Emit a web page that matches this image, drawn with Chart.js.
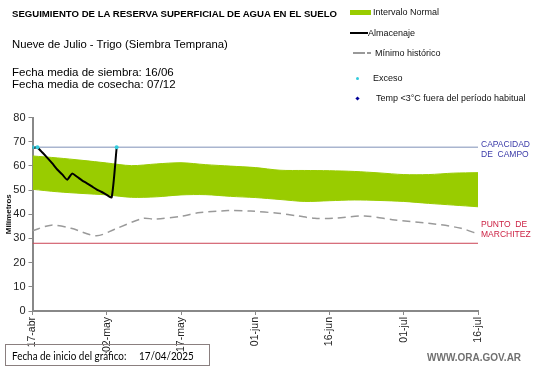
<!DOCTYPE html>
<html><head><meta charset="utf-8">
<script src="https://cdn.jsdelivr.net/npm/chart.js@4"></script>
<style>
body{margin:0;background:#fff;}
#wrap{position:relative;width:541px;height:368px;overflow:hidden;font-family:"Liberation Sans",Arial,sans-serif;background:#fff;}
#c{position:absolute;left:0;top:0;}
.t{position:absolute;white-space:nowrap;color:#000;line-height:1;}
.lg{font-size:9px;color:#111;}
.bx{font-size:11.5px;font-family:Lato,'Open Sans',sans-serif;transform-origin:0 0;transform:scaleX(0.86);}
</style></head><body>
<div id="wrap">
<canvas id="c" width="541" height="368"></canvas>
<div class="t" style="left:12px;top:9px;font-size:9.6px;font-weight:bold;">SEGUIMIENTO DE LA RESERVA SUPERFICIAL DE AGUA EN EL SUELO</div>
<div class="t" style="left:12px;top:39px;font-size:11.3px;">Nueve de Julio - Trigo (Siembra Temprana)</div>
<div class="t" style="left:12px;top:67px;font-size:11.5px;">Fecha media de siembra: 16/06</div>
<div class="t" style="left:12px;top:79px;font-size:11.5px;">Fecha media de cosecha: 07/12</div>

<div style="position:absolute;left:350px;top:10px;width:21px;height:5px;background:#99cc00;"></div>
<div class="t lg" style="left:373px;top:8px;">Intervalo Normal</div>
<div style="position:absolute;left:350px;top:32px;width:18px;height:2px;background:#000;"></div>
<div class="t lg" style="left:368px;top:29px;">Almacenaje</div>
<div style="position:absolute;left:353px;top:52px;width:12px;height:1.5px;background:#999;"></div>
<div style="position:absolute;left:367px;top:52px;width:4px;height:1.5px;background:#999;"></div>
<div class="t lg" style="left:375px;top:49px;">Mínimo histórico</div>
<div style="position:absolute;left:356px;top:77px;width:3px;height:3px;border-radius:50%;background:#33ccdd;"></div>
<div class="t lg" style="left:373px;top:74px;">Exceso</div>
<div style="position:absolute;left:356px;top:97px;width:3px;height:3px;transform:rotate(45deg);background:#000099;"></div>
<div class="t lg" style="left:376px;top:94px;">Temp &lt;3°C fuera del período habitual</div>

<div style="position:absolute;left:5px;top:344px;width:205px;height:22px;border:1px solid #8a7f7f;box-sizing:border-box;"></div>
<div class="t bx" style="left:12px;top:350px;">Fecha de inicio del gráfico:</div>
<div class="t bx" style="left:139px;top:350px;">17/04/2025</div>
<div class="t" style="left:427px;top:353px;font-size:10px;font-weight:bold;color:#707070;">WWW.ORA.GOV.AR</div>
</div>
<script>
const xTickDays = [0, 15, 30, 45, 60, 75, 90];
const xTickLabels = ['17-abr', '02-may', '17-may', '01-jun', '16-jun', '01-jul', '16-jul'];
const yTicks = [0, 10, 20, 30, 40, 50, 60, 70, 80];

const bandDays = [0, 5, 10, 15, 20, 25, 30, 35, 40, 45, 50, 55, 60, 65, 70, 75, 80, 85, 90];
const bandUpper = [64.1, 63.3, 62.3, 61.2, 60.1, 60.8, 61.3, 60.5, 59.9, 59.3, 58.2, 58.1, 58.0, 57.7, 57.1, 56.4, 56.4, 57.0, 57.2];
const bandLower = [50.3, 49.3, 48.6, 48.0, 47.0, 47.2, 48.0, 48.1, 47.4, 46.9, 46.1, 45.3, 45.6, 45.9, 45.7, 45.3, 44.5, 43.8, 43.1];

const storageDays = [0, 1, 2, 3, 4, 5, 6, 7, 8, 9, 10, 11, 12, 13, 14, 15, 16, 17];
const storageVals = [67.5, 67.5, 65.5, 63.3, 61.0, 58.5, 56.5, 54.3, 56.8, 55.5, 54.0, 52.8, 51.5, 50.2, 49.2, 48.0, 47.0, 67.5];

const minDays = [0, 3.8, 7.8, 12.9, 16.6, 22.3, 24.7, 30.4, 33.4, 39.5, 44.1, 49.6, 53.6, 57, 60.7, 67.1, 73.2, 80, 86.6, 90];
const minVals = [33.2, 35.5, 34.2, 31.1, 33.8, 38.3, 38.0, 39.3, 40.6, 41.5, 41.3, 40.4, 39.3, 38.3, 38.3, 39.3, 37.6, 36.3, 34.2, 31.8];

const excessDays = [0, 1, 17];
const excessVals = [67.7, 67.7, 67.7];

const fieldCapacity = 67.7;
const wiltingPoint = 28;
const axisStartEnd = [0, 90];

const pts = (xs, ys) => xs.map((x, i) => ({x: x, y: ys[i]}));
const FONT = '"Liberation Sans", Arial, sans-serif';

const sideLabels = {
  id: 'sideLabels',
  afterDraw(chart) {
    const ctx = chart.ctx, y = chart.scales.y, a = chart.chartArea;
    ctx.save();
    ctx.font = '8.5px ' + FONT;
    ctx.textBaseline = 'middle';
    ctx.fillStyle = '#3a3aa8';
    const yc = y.getPixelForValue(fieldCapacity);
    ctx.fillText('CAPACIDAD', a.right + 3, yc - 3);
    ctx.fillText('DE  CAMPO', a.right + 3, yc + 7);
    ctx.fillStyle = '#cc2244';
    const yw = y.getPixelForValue(wiltingPoint);
    ctx.fillText('PUNTO  DE', a.right + 3, yw - 19);
    ctx.fillText('MARCHITEZ', a.right + 3, yw - 9);
    ctx.fillStyle = '#111';
    ctx.font = 'bold 8px ' + FONT;
    ctx.translate(9, (a.top + a.bottom) / 2);
    ctx.rotate(-Math.PI / 2);
    ctx.textAlign = 'center';
    ctx.fillText('Milímetros', 0, 0);
    ctx.restore();
  }
};

new Chart(document.getElementById('c'), {
  type: 'line',
  data: {
    datasets: [
      {data: pts(excessDays, excessVals), showLine: false, pointRadius: 2, pointBackgroundColor: '#33ccdd', pointBorderWidth: 0, order: 0},
      {data: pts(storageDays, storageVals), borderColor: '#000', borderWidth: 2, pointRadius: 0, tension: 0.2, order: 1},
      {data: pts(minDays, minVals), borderColor: '#9a9a9a', borderWidth: 1.5, borderDash: [8, 5], pointRadius: 0, tension: 0.3, order: 2},
      {data: pts(axisStartEnd, [fieldCapacity, fieldCapacity]), borderColor: '#a9b5cf', borderWidth: 1.5, pointRadius: 0, order: 3},
      {data: pts(axisStartEnd, [wiltingPoint, wiltingPoint]), borderColor: '#cc4455', borderWidth: 1, pointRadius: 0, order: 3},
      {data: pts(bandDays, bandUpper), borderColor: '#99cc00', borderWidth: 1, backgroundColor: '#99cc00', fill: '+1', pointRadius: 0, tension: 0.3, order: 5},
      {data: pts(bandDays, bandLower), borderColor: '#99cc00', borderWidth: 1, pointRadius: 0, tension: 0.3, order: 5}
    ]
  },
  options: {
    responsive: false,
    animation: false,
    layout: {padding: {left: 0, right: 63, top: 117.5, bottom: 0}},
    plugins: {legend: {display: false}, tooltip: {enabled: false}},
    scales: {
      x: {
        type: 'linear', min: 0, max: 90,
        afterBuildTicks: s => { s.ticks = xTickDays.map(v => ({value: v})); },
        afterFit: s => { s.height = 57; },
        ticks: {
          callback: v => xTickLabels[xTickDays.indexOf(v)],
          autoSkip: false, maxRotation: 90, minRotation: 90,
          font: {size: 10.5, family: FONT}, color: '#222', padding: 2
        },
        grid: {drawOnChartArea: false, drawTicks: true, tickLength: 4, color: '#888'},
        border: {color: '#888', width: 2}
      },
      y: {
        min: 0, max: 80,
        afterBuildTicks: s => { s.ticks = yTicks.map(v => ({value: v})); },
        afterFit: s => { s.width = 32.5; },
        ticks: {font: {size: 11, family: FONT}, color: '#222', padding: 3},
        grid: {drawOnChartArea: false, drawTicks: true, tickLength: 4, color: '#888'},
        border: {color: '#888', width: 2}
      }
    }
  },
  plugins: [sideLabels]
});
</script>
</body></html>
